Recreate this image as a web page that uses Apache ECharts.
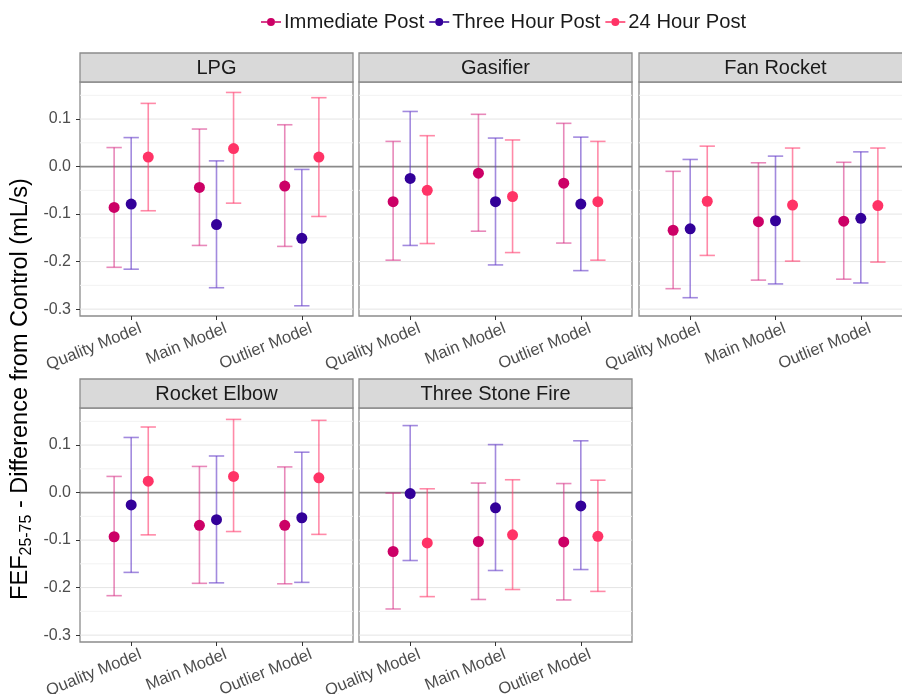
<!DOCTYPE html>
<html><head><meta charset="utf-8">
<script src="https://cdn.jsdelivr.net/npm/echarts@6/dist/echarts.min.js"></script>
<style>html,body{margin:0;padding:0;background:#fff}#c{width:902px;height:694px}</style>
</head><body><div id="c"></div>
<script>
// ---- data ----
const categories = ['Quality Model', 'Main Model', 'Outlier Model'];
const timepoints = ['Immediate Post', 'Three Hour Post', '24 Hour Post'];
const stoves = ['LPG', 'Gasifier', 'Fan Rocket', 'Rocket Elbow', 'Three Stone Fire'];
const yTicks = [-0.3, -0.2, -0.1, 0.0, 0.1];
const yMinorLines = [-0.25, -0.15, -0.05, 0.05, 0.15];
const zeroLine = [0];
// rows = timepoints (Immediate, Three Hour, 24 Hour); columns = categories
const lpgEst  = [[-0.086, -0.044, -0.041], [-0.079, -0.122, -0.151], [0.020, 0.038, 0.020]];
const lpgLow  = [[-0.212, -0.166, -0.168], [-0.216, -0.255, -0.293], [-0.093, -0.077, -0.105]];
const lpgHigh = [[0.040, 0.079, 0.088], [0.061, 0.012, -0.006], [0.133, 0.156, 0.145]];
const gasEst  = [[-0.074, -0.014, -0.035], [-0.025, -0.074, -0.079], [-0.050, -0.063, -0.074]];
const gasLow  = [[-0.197, -0.136, -0.161], [-0.166, -0.207, -0.219], [-0.162, -0.181, -0.197]];
const gasHigh = [[0.053, 0.110, 0.091], [0.116, 0.060, 0.062], [0.065, 0.056, 0.053]];
const fanEst  = [[-0.134, -0.116, -0.115], [-0.131, -0.114, -0.109], [-0.073, -0.081, -0.082]];
const fanLow  = [[-0.257, -0.239, -0.237], [-0.276, -0.247, -0.245], [-0.187, -0.199, -0.201]];
const fanHigh = [[-0.010, 0.008, 0.009], [0.015, 0.022, 0.031], [0.043, 0.039, 0.039]];
const elbEst  = [[-0.093, -0.069, -0.069], [-0.026, -0.057, -0.053], [0.024, 0.034, 0.031]];
const elbLow  = [[-0.217, -0.191, -0.192], [-0.168, -0.190, -0.189], [-0.089, -0.082, -0.088]];
const elbHigh = [[0.034, 0.055, 0.054], [0.116, 0.077, 0.085], [0.138, 0.154, 0.152]];
const tsfEst  = [[-0.124, -0.103, -0.104], [-0.002, -0.032, -0.028], [-0.106, -0.089, -0.092]];
const tsfLow  = [[-0.245, -0.225, -0.226], [-0.143, -0.164, -0.162], [-0.219, -0.204, -0.208]];
const tsfHigh = [[-0.001, 0.020, 0.019], [0.141, 0.101, 0.109], [0.008, 0.027, 0.026]];

const panelEst  = [lpgEst, gasEst, fanEst, elbEst, tsfEst];
const panelLow  = [lpgLow, gasLow, fanLow, elbLow, tsfLow];
const panelHigh = [lpgHigh, gasHigh, fanHigh, elbHigh, tsfHigh];

// ---- style / layout ----
const FONT = 'Liberation Sans, Arial, sans-serif';
const dotColors = ['#CC0066', '#330099', '#FF3366'];
const barColors = ['rgba(214,40,130,0.55)', 'rgba(100,60,200,0.6)', 'rgba(255,60,110,0.6)'];
const DODGE = [-0.2, 0, 0.2];
const CAP = 0.18;
const LABEL_SHIFT = 0.11;
const panels = [
  {left: 80, top: 82, width: 273, height: 234, yLabels: true},
  {left: 359, top: 82, width: 273, height: 234, yLabels: false},
  {left: 639, top: 82, width: 273, height: 234, yLabels: false},
  {left: 80, top: 408, width: 273, height: 234, yLabels: true},
  {left: 359, top: 408, width: 273, height: 234, yLabels: false}
];
const STRIP_H = 29;

const chart = echarts.init(document.getElementById('c'), null, {renderer: 'canvas'});

const grid = [], xAxis = [], yAxis = [], series = [], graphic = [];

function renderErrorBar(params, api) {
  const x = api.value(0), lo = api.value(1), hi = api.value(2);
  const pLo = api.coord([x, lo]), pHi = api.coord([x, hi]);
  const half = api.size([CAP, 0])[0] / 2;
  const style = {stroke: api.visual('color'), lineWidth: 1.6, fill: null};
  return {type: 'group', children: [
    {type: 'line', shape: {x1: pLo[0], y1: pLo[1], x2: pHi[0], y2: pHi[1]}, style: style},
    {type: 'line', shape: {x1: pHi[0] - half, y1: pHi[1], x2: pHi[0] + half, y2: pHi[1]}, style: style},
    {type: 'line', shape: {x1: pLo[0] - half, y1: pLo[1], x2: pLo[0] + half, y2: pLo[1]}, style: style}
  ]};
}
function renderGridLine(params, api) {
  const v = api.value(0), kind = api.value(1);
  const a = api.coord([0.4, v]), b = api.coord([3.6, v]);
  const styles = [
    {stroke: '#f2f2f2', lineWidth: 1},
    {stroke: '#e4e4e4', lineWidth: 1},
    {stroke: '#8a8a8a', lineWidth: 1.8}
  ];
  return {type: 'line', shape: {x1: a[0], y1: a[1], x2: b[0], y2: b[1]}, style: styles[kind]};
}

const labelValues = [1, 2, 3].map(function (v) { return v + LABEL_SHIFT; });

panels.forEach(function (p, i) {
  grid.push({left: p.left, top: p.top, width: p.width, height: p.height, show: true,
    backgroundColor: '#fff', borderColor: '#8c8c8c', borderWidth: 1.3,
    containLabel: false, outerBoundsMode: 'none'});
  xAxis.push({type: 'value', gridIndex: i, min: 0.4, max: 3.6, position: 'bottom',
    axisLine: {show: false, onZero: false}, splitLine: {show: false},
    axisTick: {show: true, customValues: [1, 2, 3], length: 4, lineStyle: {color: '#333', width: 1}},
    axisLabel: {show: true, customValues: labelValues, rotate: 22, margin: 12,
      formatter: function (v) { return categories[Math.round(v) - 1] || ''; },
      color: '#4d4d4d', fontSize: 16.5, fontFamily: FONT}
  });
  yAxis.push({type: 'value', gridIndex: i, min: -0.3145, max: 0.178, position: 'left',
    axisLine: {show: false, onZero: false}, splitLine: {show: false},
    axisTick: {show: p.yLabels, customValues: yTicks, length: 4, lineStyle: {color: '#333', width: 1}},
    axisLabel: {show: p.yLabels, customValues: yTicks, margin: 9,
      formatter: function (v) { return v.toFixed(1); },
      color: '#4d4d4d', fontSize: 16, fontFamily: FONT}
  });
  // grid lines
  const gl = [];
  yMinorLines.forEach(function (v) { gl.push([v, 0]); });
  yTicks.forEach(function (v) { gl.push([v, 1]); });
  zeroLine.forEach(function (v) { gl.push([v, 2]); });
  series.push({type: 'custom', xAxisIndex: i, yAxisIndex: i, silent: true, z: 1,
    renderItem: renderGridLine, data: gl, legendHoverLink: false, tooltip: {show: false}});
  // error bars and dots
  for (let t = 0; t < 3; t++) {
    const bars = [], dots = [];
    for (let c = 0; c < 3; c++) {
      const x = c + 1 + DODGE[t];
      bars.push([x, panelLow[i][t][c], panelHigh[i][t][c]]);
      dots.push([x, panelEst[i][t][c]]);
    }
    series.push({type: 'custom', name: timepoints[t], xAxisIndex: i, yAxisIndex: i, z: 3,
      renderItem: renderErrorBar, itemStyle: {color: barColors[t]},
      encode: {x: 0, y: [1, 2]}, data: bars});
    series.push({type: 'scatter', name: timepoints[t], xAxisIndex: i, yAxisIndex: i, z: 4,
      symbol: 'circle', symbolSize: 11, itemStyle: {color: dotColors[t], opacity: 1},
      data: dots});
  }
  // strip
  graphic.push({type: 'rect', silent: true, z: 10,
    shape: {x: p.left, y: p.top - STRIP_H, width: p.width, height: STRIP_H},
    style: {fill: '#d9d9d9', stroke: '#8c8c8c', lineWidth: 1.3}});
  graphic.push({type: 'text', silent: true, z: 11,
    x: p.left + p.width / 2, y: p.top - STRIP_H / 2 + 1,
    style: {text: stoves[i], fill: '#1a1a1a', font: '20px ' + FONT, align: 'center', verticalAlign: 'middle'}});
});

// y-axis title
graphic.push({type: 'text', silent: true, z: 11, x: 21, y: 389, rotation: Math.PI / 2,
  style: {
    text: '{a|FEF}{b|25-75}{a| - Difference from Control (mL/s)}',
    align: 'center', verticalAlign: 'middle',
    rich: {
      a: {fontSize: 23.5, fontFamily: FONT, fill: '#000', color: '#000', lineHeight: 28},
      b: {fontSize: 16, fontFamily: FONT, fill: '#000', color: '#000', lineHeight: 16, verticalAlign: 'bottom'}
    }
  }});

const legendIcon = 'path://M0,4.3L6,4.3L6,5.7L0,5.7Z M14,4.3L20,4.3L20,5.7L14,5.7Z M10,1A4,4 0 1 1 9.99,1Z';

chart.setOption({
  animation: false,
  backgroundColor: '#fff',
  legend: {
    left: 256, top: 7, itemWidth: 20, itemHeight: 10, itemGap: 5,
    textStyle: {fontSize: 20.2, fontFamily: FONT, color: '#1a1a1a', padding: [0, 0, 0, -2]},
    data: timepoints.map(function (n, t) {
      return {name: n, icon: legendIcon, itemStyle: {color: dotColors[t], opacity: 1}};
    })
  },
  grid: grid, xAxis: xAxis, yAxis: yAxis, series: series, graphic: graphic
});
</script>
</body></html>
